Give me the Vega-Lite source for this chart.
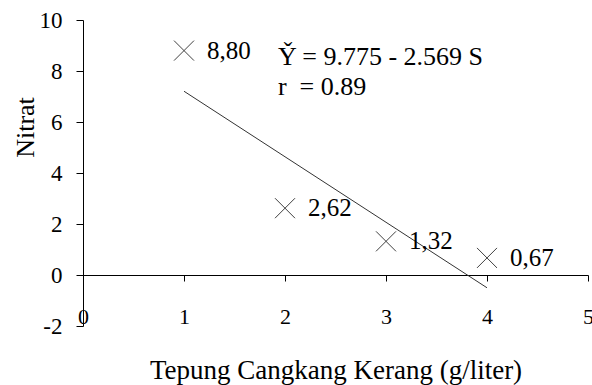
{
  "$schema": "https://vega.github.io/schema/vega-lite/v6.json",
  "width": 505,
  "height": 306,
  "autosize": {"type": "none"},
  "padding": {"left": 83, "top": 20, "right": 4, "bottom": 59},
  "background": "white",
  "config": {
    "view": {"stroke": null},
    "font": "Liberation Serif",
    "axis": {"grid": false, "domainColor": "#000000", "tickColor": "#000000", "labelColor": "#000000", "titleColor": "#000000", "labelFont": "Liberation Serif", "titleFont": "Liberation Serif", "titleFontWeight": "normal"}
  },
  "datasets": {
    "pts": [
      {"x": 1, "y": 8.80, "lab": "8,80"},
      {"x": 2, "y": 2.62, "lab": "2,62"},
      {"x": 3, "y": 1.32, "lab": "1,32"},
      {"x": 4, "y": 0.67, "lab": "0,67"}
    ],
    "reg": [
      {"x": 1, "y": 7.206},
      {"x": 4, "y": -0.501}
    ],
    "ann": [
      {"x": 1.93, "y": 8.24, "lab": "Y\u030c = 9.775 - 2.569 S"},
      {"x": 1.93, "y": 7.06, "lab": "r\u00a0 = 0.89"}
    ]
  },
  "encoding": {
    "x": {
      "field": "x", "type": "quantitative",
      "scale": {"domain": [0, 5], "nice": false, "zero": false},
      "axis": {
        "orient": "bottom", "offset": -51,
        "values": [0, 1, 2, 3, 4, 5],
        "tickSize": 6, "labelPadding": 42, "labelBaseline": "alphabetic",
        "labelFlush": false, "labelOverlap": false,
        "labelFont": "Liberation Serif",
        "labelFontSize": 22, "labelExpr": "'' + datum.value",
        "title": "Tepung Cangkang Kerang (g/liter)",
        "titleFont": "Liberation Serif",
        "titleFontSize": 27, "titleBaseline": "alphabetic", "titleY": 103
      }
    },
    "y": {
      "field": "y", "type": "quantitative",
      "scale": {"domain": [-2, 10], "nice": false, "zero": false},
      "axis": {
        "values": [-2, 0, 2, 4, 6, 8, 10],
        "labelFlush": false, "labelOverlap": false,
        "labelFont": "Liberation Serif",
        "tickSize": 7, "labelPadding": 14, "labelFontSize": 23,
        "labelExpr": "'' + datum.value",
        "title": "Nitrat", "titleFont": "Liberation Serif", "titleFontSize": 26, "titleAngle": -90,
        "titleBaseline": "alphabetic", "titleX": -50, "titleY": 107, "titleAlign": "center"
      }
    }
  },
  "layer": [
    {
      "data": {"name": "reg"},
      "mark": {"type": "line", "color": "#333333", "strokeWidth": 1}
    },
    {
      "data": {"name": "pts"},
      "mark": {"type": "point", "shape": "M-1,-1L1,1M-1,1L1,-1", "filled": false, "size": 400, "stroke": "#404040", "strokeWidth": 1, "opacity": 1}
    },
    {
      "data": {"name": "pts"},
      "mark": {"type": "text", "align": "left", "baseline": "alphabetic", "dx": 23, "dy": 8, "fontSize": 25, "font": "Liberation Serif", "color": "#000000"},
      "encoding": {"text": {"field": "lab"}}
    },
    {
      "data": {"name": "ann"},
      "mark": {"type": "text", "align": "left", "baseline": "alphabetic", "fontSize": 26, "font": "Liberation Serif", "color": "#000000"},
      "encoding": {"text": {"field": "lab"}}
    }
  ]
}
